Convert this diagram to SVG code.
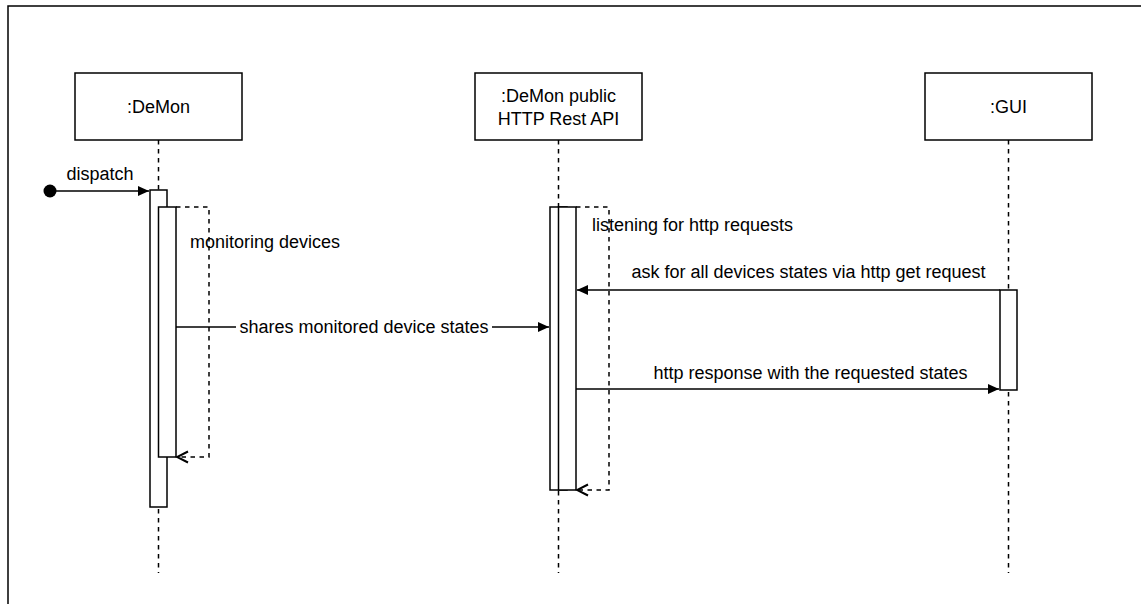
<svg xmlns="http://www.w3.org/2000/svg" width="1141" height="604" viewBox="0 0 1141 604">
<style>
.box{fill:#fff;stroke:#000;stroke-width:1.5}
.life{stroke:#000;stroke-width:1.5;stroke-dasharray:4.5 4.5;fill:none}
.msg{stroke:#000;stroke-width:1.5;fill:none}
.ret{stroke:#000;stroke-width:1.5;stroke-dasharray:4.5 4.5;fill:none}
text{font-family:"Liberation Sans",Arial,Helvetica,sans-serif;font-size:18px;fill:#000}
.c{text-anchor:middle}
</style>
<defs>
<marker id="block" markerWidth="12" markerHeight="12" refX="11" refY="6" orient="auto" markerUnits="userSpaceOnUse">
<path d="M0,1 L11,6 L0,11 Z" fill="#000"/>
</marker>
<marker id="open" markerWidth="14" markerHeight="14" refX="12" refY="7" orient="auto" markerUnits="userSpaceOnUse">
<path d="M1,1.5 L12,7 L1,12.5" fill="none" stroke="#000" stroke-width="2"/>
</marker>
</defs>
<rect x="8" y="6" width="1200" height="700" fill="#fff" stroke="#000" stroke-width="1.5"/>

<g id="connectors">
<line class="life" x1="158.5" y1="140" x2="158.5" y2="573"/>
<line class="life" x1="558.5" y1="140" x2="558.5" y2="573"/>
<line class="life" x1="1008.5" y1="140" x2="1008.5" y2="573"/>
</g>

<g id="demon">
<rect class="box" x="75" y="73" width="167" height="67"/>
<text class="c" x="158.5" y="113">:DeMon</text>
</g>
<g id="api">
<rect class="box" x="475" y="73" width="167" height="67"/>
<text class="c" x="558.5" y="102">:DeMon public</text>
<text class="c" x="558.5" y="125">HTTP Rest API</text>
</g>
<g id="gui">
<rect class="box" x="925" y="73" width="167" height="67"/>
<text class="c" x="1008.5" y="113">:GUI</text>
</g>

<g id="demon-activation">
<rect class="box" x="150" y="190" width="17" height="317"/>
<rect class="box" x="158.5" y="207" width="17.5" height="250"/>
</g>
<g id="api-activation">
<rect class="box" x="550" y="207" width="17" height="283"/>
<rect class="box" x="558.5" y="207" width="17.5" height="283"/>
</g>
<g id="gui-activation">
<rect class="box" x="1000" y="290" width="17" height="100"/>
</g>

<g id="messages">
<circle cx="50" cy="191" r="6.5" fill="#000"/>
<line class="msg" x1="50" y1="191" x2="149" y2="191" marker-end="url(#block)"/>
<text class="c" x="100" y="180">dispatch</text>

<polyline class="ret" points="176,207 209,207 209,457 177,457" marker-end="url(#open)"/>
<text x="190" y="248">monitoring devices</text>

<line class="msg" x1="176" y1="327" x2="549" y2="327" marker-end="url(#block)"/>
<rect x="236" y="316" width="256" height="22" fill="#fff"/>
<text class="c" x="364" y="333">shares monitored device states</text>

<polyline class="ret" points="576,207 609,207 609,490 577,490" marker-end="url(#open)"/>
<text x="592" y="231">listening for http requests</text>

<line class="msg" x1="1000" y1="290" x2="577" y2="290" marker-end="url(#block)"/>
<text class="c" x="808.5" y="278">ask for all devices states via http get request</text>

<line class="msg" x1="576" y1="389" x2="999" y2="389" marker-end="url(#block)"/>
<text class="c" x="810.5" y="379">http response with the requested states</text>
</g>
</svg>
